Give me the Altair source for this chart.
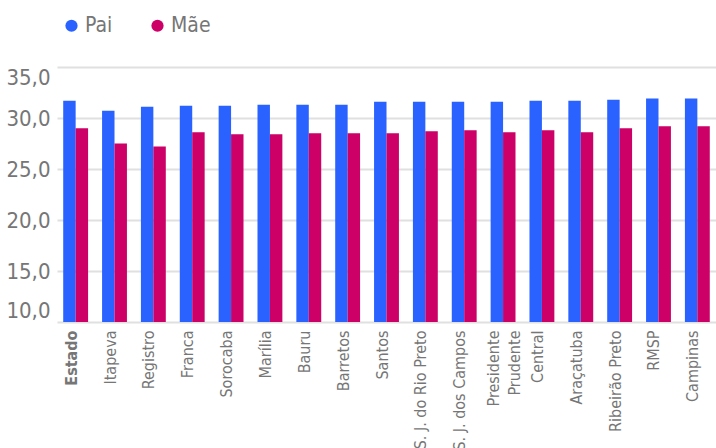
import altair as alt
import pandas as pd

# Idade média (anos) de pai e mãe por região
regioes = ["Estado", "Itapeva", "Registro", "Franca", "Sorocaba", "Marília", "Bauru",
           "Barretos", "Santos", "S. J. do Rio Preto", "S. J. dos Campos",
           "Presidente Prudente", "Central", "Araçatuba", "Ribeirão Preto", "RMSP", "Campinas"]
pai = [31.7, 30.7, 31.1, 31.2, 31.2, 31.3, 31.3, 31.3, 31.6, 31.6, 31.6, 31.6,
       31.7, 31.7, 31.8, 31.9, 31.9]
mae = [29.0, 27.5, 27.2, 28.6, 28.4, 28.4, 28.5, 28.5, 28.5, 28.7, 28.8, 28.6,
       28.8, 28.6, 29.0, 29.2, 29.2]
series = ["Pai", "Mãe"]
cores = ["#2962FF", "#CC0066"]
y_ticks = [10, 15, 20, 25, 30, 35]
base = 10

rows = []
for r, p, m in zip(regioes, pai, mae):
    rows.append({"regiao": r, "serie": "Pai", "valor": p})
    rows.append({"regiao": r, "serie": "Mãe", "valor": m})
df = pd.DataFrame(rows)

FONT = "DejaVu Sans Condensed"
GREY = "#767676"

chart = alt.Chart(df).mark_bar().encode(
    x=alt.X(
        "regiao:N",
        sort=regioes,
        title=None,
        scale=alt.Scale(paddingInner=0.36, paddingOuter=0.16),
        axis=alt.Axis(
            labelAngle=270,
            labelFontSize=16,
            labelColor=GREY,
            labelFont=FONT,
            labelPadding=8,
            labelLimit=200,
            labelLineHeight=21,
            labelOffset={"condition": {"test": "datum.value == 'Presidente Prudente'", "value": -9},
                         "value": -4},
            ticks=False,
            domain=False,
            grid=False,
            labelFontWeight={"condition": {"test": "datum.value == 'Estado'", "value": "bold"},
                             "value": "normal"},
            labelExpr="datum.value == 'Presidente Prudente' ? ['Presidente', 'Prudente'] : datum.label",
        ),
    ),
    xOffset=alt.XOffset("serie:N", sort=series, scale=alt.Scale(paddingInner=0, paddingOuter=0)),
    y=alt.Y(
        "valor:Q",
        title=None,
        scale=alt.Scale(domain=[10, 35], zero=False, nice=False),
        axis=alt.Axis(
            values=y_ticks,
            labelExpr="replace(format(datum.value, '.1f'), '.', ',')",
            labelFontSize=22,
            labelColor=GREY,
            labelFont=FONT,
            labelPadding=7,
            labelFlush=True,
            ticks=False,
            domain=False,
            gridColor="#e0e0e0",
            gridWidth=2,
        ),
    ),
    y2=alt.datum(base),
    color=alt.Color(
        "serie:N",
        sort=series,
        scale=alt.Scale(domain=series, range=cores),
        legend=alt.Legend(
            title=None,
            orient="none",
            legendX=4,
            legendY=-52,
            direction="horizontal",
            symbolType="circle",
            symbolSize=150,
            labelFontSize=21,
            labelFont=FONT,
            labelColor=GREY,
            labelOffset=3,
            columnPadding=34,
        ),
    ),
).properties(
    width=659,
    height=255,
    autosize=alt.AutoSizeParams(type="none"),
    padding={"left": 57, "top": 67, "right": 0, "bottom": 126},
).configure_view(stroke=None)

chart.save("out.html", embed_options={"renderer": "svg", "actions": False})
